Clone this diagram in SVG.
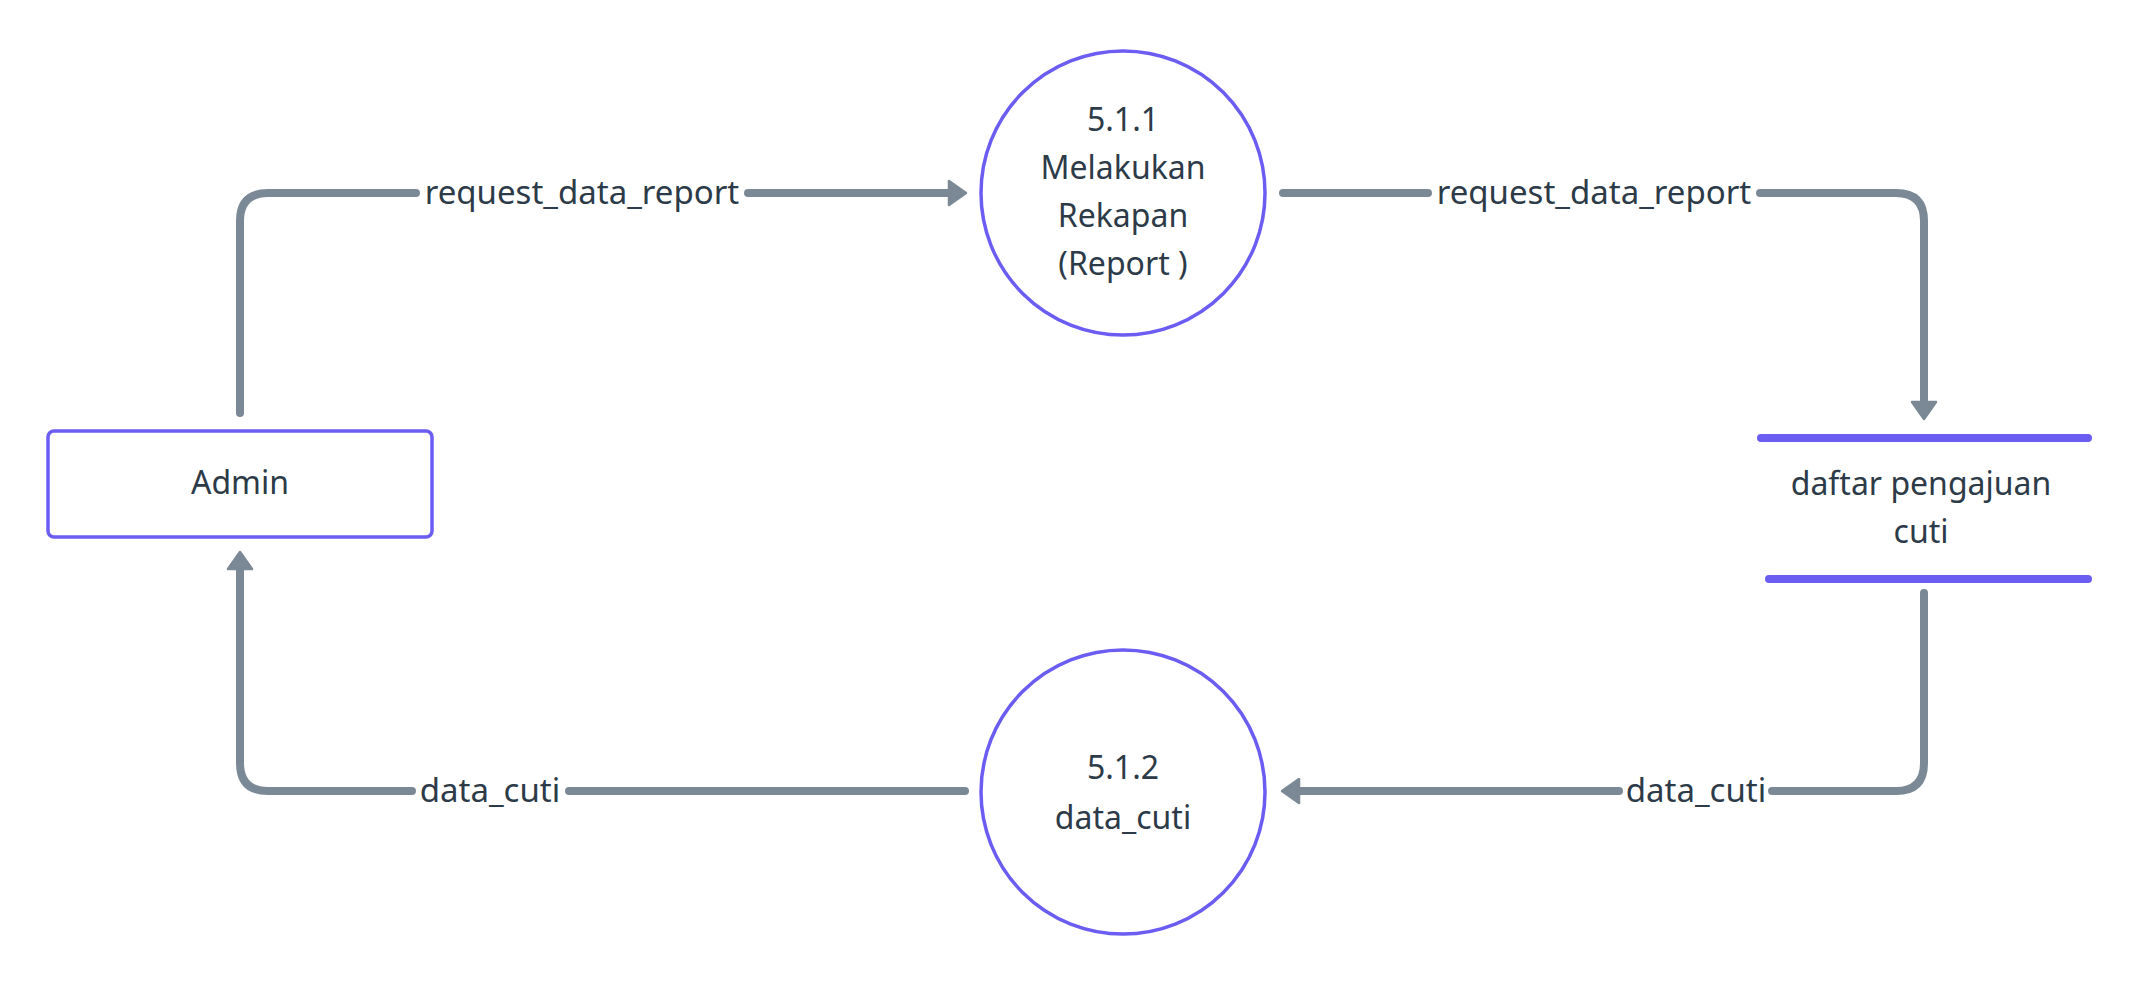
<svg xmlns="http://www.w3.org/2000/svg" width="2144" height="984" viewBox="0 0 2144 984">
<style>
.node{fill:#fff;stroke:#6b5cf2;stroke-width:3.5}
.store{stroke:#6b5cf2;stroke-width:8;stroke-linecap:round}
.t{font-family:"Noto Sans","Liberation Sans",sans-serif;font-size:32px;fill:#2d3a48;text-anchor:middle}
.l{font-size:33px}
.c{fill:none;stroke:#7b8895;stroke-width:8;stroke-linecap:round;stroke-linejoin:round}
</style>
<defs>
<marker id="arr" markerUnits="userSpaceOnUse" markerWidth="22" markerHeight="30" viewBox="0 0 22 30" refX="9" refY="15" orient="auto">
<path d="M2,3 L19,15 L2,27 Z" fill="#7b8895" stroke="#7b8895" stroke-width="2.5" stroke-linejoin="round"/>
</marker>
</defs>
<rect width="2144" height="984" fill="#fff"/>
<g id="connectors">
<path class="c" d="M240,413 V221 Q240,193 268,193 H416"/>
<path class="c" d="M748,193 H956" marker-end="url(#arr)"/>
<text class="t l" x="582" y="204">request_data_report</text>
<path class="c" d="M1283,193 H1428"/>
<path class="c" d="M1760,193 H1896 Q1924,193 1924,221 V409" marker-end="url(#arr)"/>
<text class="t l" x="1594" y="204">request_data_report</text>
<path class="c" d="M1924,593 V763 Q1924,791 1896,791 H1772"/>
<path class="c" d="M1619,791 H1292" marker-end="url(#arr)"/>
<text class="t l" x="1696" y="802">data_cuti</text>
<path class="c" d="M965,791 H569"/>
<path class="c" d="M412,791 H268 Q240,791 240,763 V562" marker-end="url(#arr)"/>
<text class="t l" x="490" y="802">data_cuti</text>
</g>
<g id="admin">
<rect class="node" x="48" y="431" width="384" height="106" rx="6"/>
<text class="t" x="240" y="494">Admin</text>
</g>
<g id="p511">
<circle class="node" cx="1123" cy="193" r="142"/>
<text class="t" x="1123" y="131">5.1.1</text>
<text class="t" x="1123" y="179">Melakukan</text>
<text class="t" x="1123" y="227">Rekapan</text>
<text class="t" x="1123" y="275">(Report )</text>
</g>
<g id="p512">
<circle class="node" cx="1123" cy="792" r="142"/>
<text class="t" x="1123" y="779">5.1.2</text>
<text class="t" x="1123" y="829">data_cuti</text>
</g>
<g id="store">
<line class="store" x1="1761" y1="438" x2="2088" y2="438"/>
<line class="store" x1="1769" y1="579" x2="2088" y2="579"/>
<text class="t" x="1921" y="495">daftar pengajuan</text>
<text class="t" x="1921" y="543">cuti</text>
</g>
</svg>
